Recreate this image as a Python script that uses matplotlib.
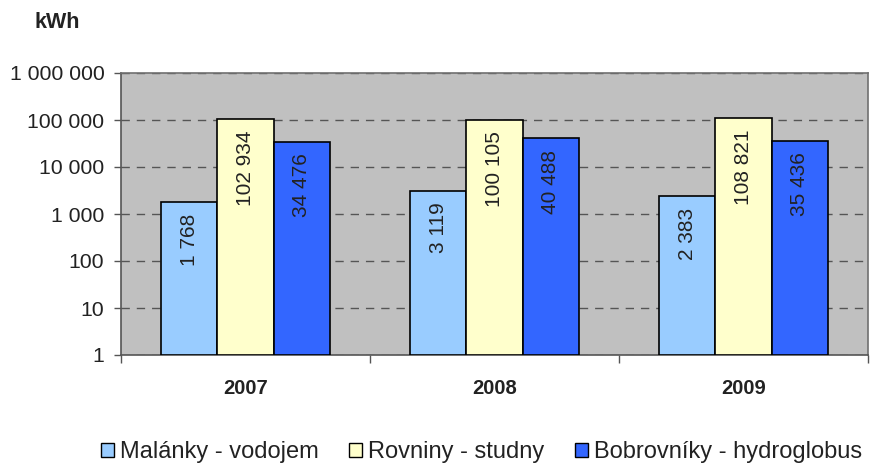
import matplotlib
matplotlib.use("Agg")
import matplotlib.pyplot as plt
import numpy as np
from matplotlib.ticker import FixedLocator, NullLocator, FuncFormatter
from matplotlib.patches import Rectangle

plt.rcParams['font.family'] = ['Liberation Sans', 'DejaVu Sans']

years = ["2007", "2008", "2009"]
series_names = ["Malánky - vodojem", "Rovniny - studny", "Bobrovníky - hydroglobus"]
malanky = [1768, 3119, 2383]
rovniny = [102934, 100105, 108821]
bobrovniky = [34476, 40488, 35436]
colors = ["#99CCFF", "#FFFFCC", "#3366FF"]
yticks = [1, 10, 100, 1000, 10000, 100000, 1000000]

def fmt(v):
    return f"{int(v):,}".replace(",", " ")

fig = plt.figure(figsize=(8.72, 4.66), dpi=100)
ax = fig.add_axes([121/872, 1-355/466, (868-121)/872, (355-73)/466])
ax.set_facecolor("#C0C0C0")

x = np.arange(len(years))
w = 0.225
all_series = [malanky, rovniny, bobrovniky]
for i, (vals, c, name) in enumerate(zip(all_series, colors, series_names)):
    pos = x + (i - 1) * w
    ax.bar(pos, vals, width=w, bottom=1, color=c, edgecolor="black",
           linewidth=1.2, label=name, zorder=3)
    for px, v in zip(pos, vals):
        ax.annotate(fmt(v), xy=(px, v), xytext=(0, -8), textcoords="offset points",
                    rotation=90, ha="center", va="top", fontsize=15,
                    color="#222222", zorder=4)

ax.set_yscale("log")
ax.set_ylim(1, 1000000)
ax.set_xlim(-0.5, 2.5)
ax.yaxis.set_major_locator(FixedLocator(yticks))
ax.yaxis.set_minor_locator(NullLocator())
ax.yaxis.set_major_formatter(FuncFormatter(lambda v, p: fmt(v)))
ax.tick_params(axis="y", labelsize=15.3, length=5, width=1, color="#555555",
               labelcolor="#222222", pad=7)
ax.grid(axis="y", which="major", linestyle=(0, (6, 5)), color="#555555",
        linewidth=1, zorder=1)

ax.set_xticks(x)
ax.set_xticklabels(years, fontsize=14.5, fontweight="bold", color="#222222")
ax.xaxis.set_minor_locator(FixedLocator([-0.5, 0.5, 1.5, 2.5]))
ax.tick_params(axis="x", which="major", length=0, pad=17)
ax.tick_params(axis="x", which="minor", length=6, width=1, color="#555555")

for s in ["left", "bottom"]:
    ax.spines[s].set_color("#555555")
    ax.spines[s].set_linewidth(1.2)
for s in ["top", "right"]:
    ax.spines[s].set_color("#707070")
    ax.spines[s].set_linewidth(1.2)

fig.text(34/872, 1-22/466, "kWh", fontsize=15.5, fontweight="bold",
         color="#222222", ha="left", va="center")

handles = [Rectangle((0, 0), 1, 1, facecolor=c, edgecolor="black", linewidth=1)
           for c in colors]
fig.legend(handles, series_names, loc="center", bbox_to_anchor=(0.552, 1-452/466),
           ncol=3, frameon=False, fontsize=17, handlelength=0.55, handleheight=0.55,
           handletextpad=0.25, columnspacing=1.3, labelcolor="#222222")

fig.savefig("out.png", dpi=100)
